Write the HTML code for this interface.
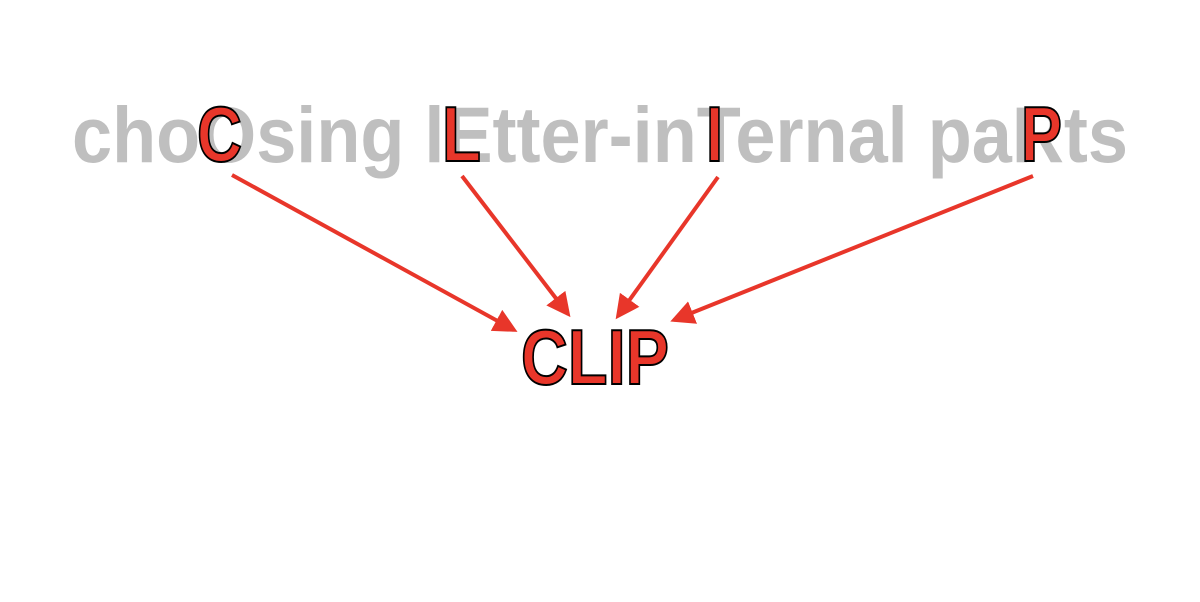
<!DOCTYPE html>
<html><head><style>html,body{margin:0;padding:0;background:#fff;}</style></head>
<body>
<svg width="1200" height="597" xmlns="http://www.w3.org/2000/svg">
<defs><marker id="a" markerWidth="6" markerHeight="6" refX="5" refY="3" orient="auto" markerUnits="strokeWidth"><path d="M0,0 L6,3 L0,6 z" fill="#e8362a"/></marker></defs>
<text x="72" y="162" textLength="1056" lengthAdjust="spacingAndGlyphs" font-family="Liberation Sans, sans-serif" font-weight="bold" font-size="79" fill="#bfbfbf">choOsing lEtter-inTernal paRts</text>
<g font-family="Liberation Sans, sans-serif" font-weight="bold" font-size="78" fill="#e8362a" stroke="#000" stroke-width="2">
<text x="197" y="161" textLength="45" lengthAdjust="spacingAndGlyphs">C</text>
<text x="442" y="161" textLength="39" lengthAdjust="spacingAndGlyphs">L</text>
<text x="706" y="161" textLength="17" lengthAdjust="spacingAndGlyphs">I</text>
<text x="1021" y="161" textLength="41" lengthAdjust="spacingAndGlyphs">P</text>
<text x="521" y="384" textLength="148" lengthAdjust="spacingAndGlyphs">CLIP</text>
</g>
<g stroke="#e8362a" stroke-width="4" marker-end="url(#a)">
<line x1="232" y1="175" x2="514" y2="330"/>
<line x1="462" y1="176" x2="568" y2="314"/>
<line x1="718" y1="177" x2="618" y2="316"/>
<line x1="1033" y1="176" x2="674" y2="320"/>
</g>
</svg>
</body></html>
